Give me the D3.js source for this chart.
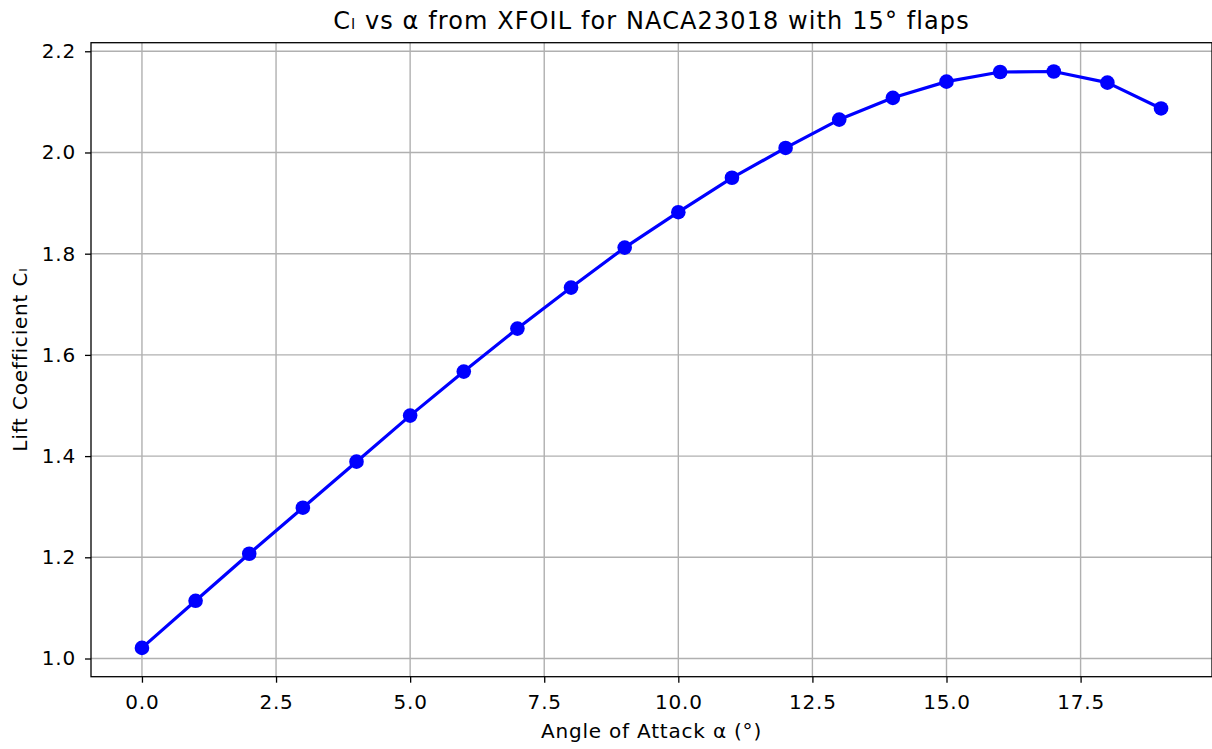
<!DOCTYPE html>
<html><head><meta charset="utf-8">
<script src="https://cdn.jsdelivr.net/npm/d3@7"></script>
<style>body{margin:0;background:#fff;} svg{display:block;font-family:"DejaVu Sans",sans-serif;}</style>
</head><body><svg id="c" width="1212" height="749"></svg>
<script>
const alpha = [0,1,2,3,4,5,6,7,8,9,10,11,12,13,14,15,16,17,18,19];
const cl = [1.021,1.114,1.207,1.298,1.389,1.480,1.567,1.652,1.733,1.812,1.882,1.950,2.009,2.065,2.108,2.140,2.159,2.160,2.138,2.087];
const xTicks = [0,2.5,5,7.5,10,12.5,15,17.5];
const yTicks = [1.0,1.2,1.4,1.6,1.8,2.0,2.2];
const title = "Cₗ vs α from XFOIL for NACA23018 with 15° flaps";
const xLabel = "Angle of Attack α (°)";
const yLabel = "Lift Coefficient Cₗ";

const L=91, R=1212, T=42.7, B=676.7;
const svg = d3.select("#c");
const xr = d3.extent(alpha), yr = d3.extent(cl);
const xm=(xr[1]-xr[0])*0.05, ym=(yr[1]-yr[0])*0.05;
const x = d3.scaleLinear().domain([xr[0]-xm, xr[1]+xm]).range([L,R]);
const y = d3.scaleLinear().domain([yr[0]-ym, yr[1]+ym]).range([B,T]);

const FS = 20, LS = 0.8;
// grid
const g = svg.append("g");
g.selectAll(".gx").data(xTicks).join("line").attr("x1",d=>x(d)).attr("x2",d=>x(d)).attr("y1",T).attr("y2",B).attr("stroke","#b0b0b0").attr("stroke-width",1.4);
g.selectAll(".gy").data(yTicks).join("line").attr("y1",d=>y(d)).attr("y2",d=>y(d)).attr("x1",L).attr("x2",R).attr("stroke","#b0b0b0").attr("stroke-width",1.4);

// line + markers
svg.append("path").datum(alpha.map((a,i)=>[a,cl[i]]))
  .attr("d", d3.line().x(d=>x(d[0])).y(d=>y(d[1])))
  .attr("fill","none").attr("stroke","#0000ff").attr("stroke-width",3.2).attr("stroke-linejoin","round");
svg.selectAll(".pt").data(alpha.map((a,i)=>[a,cl[i]])).join("circle")
  .attr("cx",d=>x(d[0])).attr("cy",d=>y(d[1])).attr("r",7.3).attr("fill","#0000ff");

// axes
const xa = svg.append("g").attr("transform",`translate(0,${B})`)
  .call(d3.axisBottom(x).tickValues(xTicks).tickFormat(d3.format(".1f")).tickSizeInner(6).tickSizeOuter(0).tickPadding(12));
const ya = svg.append("g").attr("transform",`translate(${L},0)`)
  .call(d3.axisLeft(y).tickValues(yTicks).tickFormat(d3.format(".1f")).tickSizeInner(6).tickSizeOuter(0).tickPadding(9));
[xa,ya].forEach(a=>{
  a.select(".domain").remove();
  a.selectAll(".tick line").attr("stroke","#000").attr("stroke-width",1.3);
  a.selectAll(".tick text").attr("font-family","DejaVu Sans").attr("font-size",FS).attr("letter-spacing",LS).attr("fill","#000");
});
// spines
svg.append("rect").attr("x",L).attr("y",T).attr("width",R-L).attr("height",B-T).attr("fill","none").attr("stroke","#000").attr("stroke-width",1.3);

svg.append("text").attr("x",(L+R)/2).attr("y",28.5).attr("text-anchor","middle").attr("font-size",24).attr("letter-spacing",1.1).text(title);
svg.append("text").attr("x",(L+R)/2).attr("y",737.5).attr("text-anchor","middle").attr("font-size",FS).attr("letter-spacing",LS).text(xLabel);
svg.append("text").attr("transform",`translate(27,${(T+B)/2}) rotate(-90)`).attr("text-anchor","middle").attr("font-size",FS).attr("letter-spacing",LS).text(yLabel);
</script></body></html>
